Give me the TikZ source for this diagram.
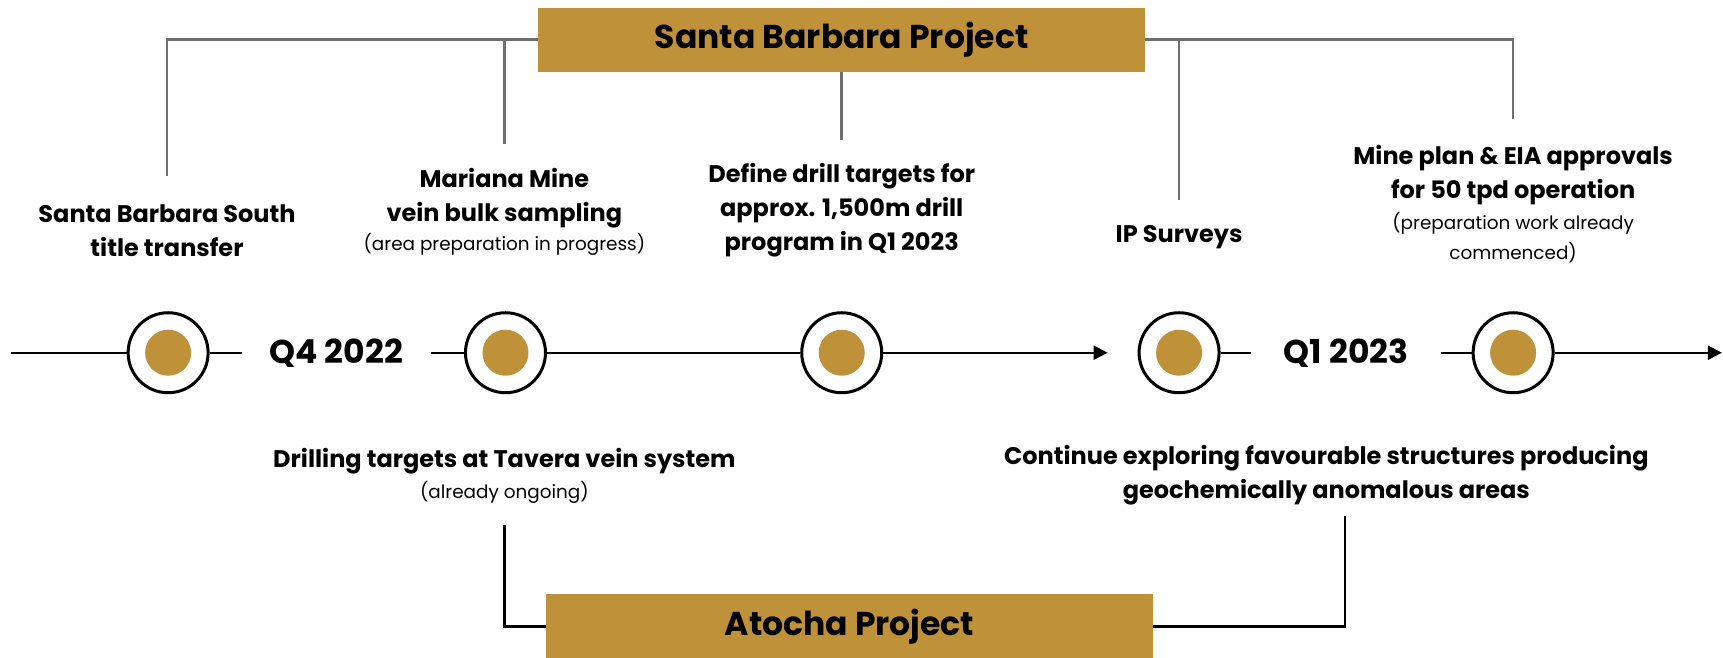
\documentclass[tikz,border=0pt]{standalone}
\usepackage{fontspec}
\setmainfont{Poppins}
\usetikzlibrary{arrows.meta}
\definecolor{gold}{RGB}{191,145,56}
\definecolor{linegray}{RGB}{110,110,110}
\begin{document}
\begin{tikzpicture}[x=1.0989pt,y=-1.0989pt,
  milestone/.style={circle,draw,line width=3pt,fill=white,minimum size=80pt,inner sep=0pt},
  dot/.style={circle,fill=gold,minimum size=46pt,inner sep=0pt},
  banner/.style={fill=gold,minimum width=607pt,minimum height=64pt,inner sep=0pt,font=\bfseries\fontsize{33}{36}\selectfont},
  task/.style={align=center,font=\bfseries\fontsize{24}{34}\selectfont},
  note/.style={align=center,font=\fontsize{18.4}{30}\selectfont},
  quarter/.style={minimum width=189pt,inner sep=0pt,font=\bfseries\fontsize{33}{36}\selectfont},
  timeline/.style={line width=2.3pt},
  sblink/.style={draw=linegray,line width=2.7pt},
  atlink/.style={line width=2.3pt}]
  \useasboundingbox (0,0) rectangle (1568,598);

  % banners
  \node[banner] (sbp) at (766,36) {Santa Barbara Project};
  \node[banner] (atp) at (773,570) {Atocha Project};

  % timeline
  \coordinate (start) at (10,321);
  \coordinate (mid) at (1008,321);
  \coordinate (stop) at (1567,321);
  \node[milestone] (m1) at (153,321) {};
  \node[milestone] (m2) at (460,321) {};
  \node[milestone] (m3) at (766,321) {};
  \node[milestone] (m4) at (1073,321) {};
  \node[milestone] (m5) at (1377,321) {};
  \foreach \m in {m1,m2,m3,m4,m5}
    \node[dot] at (\m) {};
  \node[quarter] (q4) at (306,321) {Q4 2022};
  \node[quarter] (q1) at (1225,321) {Q1 2023};
  \draw[timeline] (start) -- (m1) (m1) -- (q4) (q4) -- (m2) (m2) -- (m3)
    (m4) -- (q1) (q1) -- (m5);
  \draw[timeline,-{Triangle[length=14pt,width=14pt]}] (m3) -- (mid);
  \draw[timeline,-{Triangle[length=14pt,width=14pt]}] (m5) -- (stop);

  % Santa Barbara tasks
  \node[task] (sbs) at (152,210) {Santa Barbara South\\title transfer};
  \node[task] (mar) at (459,180) {Mariana Mine\\vein bulk sampling};
  \node[note] (marn) at (459,222) {(area preparation in progress)};
  \node[task] (drl) at (766,191) {Define drill targets for\\approx. 1,500m drill\\program in Q1 2023};
  \node[task] (ip) at (1073,216) {IP Surveys};
  \node[task] (mpl) at (1377,159) {Mine plan \& EIA approvals\\for 50 tpd operation};
  \node[note] (mpln) at (1377,216) {(preparation work already\\commenced)};

  % Atocha tasks
  \node[task] (tav) at (459,420) {Drilling targets at Tavera vein system};
  \node[note] (tavn) at (459,448) {(already ongoing)};
  \node[task] (geo) at (1207,432) {Continue exploring favourable structures producing\\geochemically anomalous areas};

  % connectors
  \coordinate (t1) at (152,160);
  \coordinate (t2) at (459,131);
  \coordinate (t3) at (766,127);
  \coordinate (t4) at (1073,182);
  \coordinate (t5) at (1377,108);
  \draw[sblink] (t1) |- (sbp.west);
  \draw[sblink] (t2) -- (t2 |- sbp.west);
  \draw[sblink] (t3) -- (sbp.south);
  \draw[sblink] (t4) -- (t4 |- sbp.east);
  \draw[sblink] (t5) |- (sbp.east);
  \coordinate (b1) at (459,478);
  \coordinate (b2) at (1224,470);
  \draw[atlink] (b1) |- (atp.west);
  \draw[atlink] (b2) |- (atp.east);
\end{tikzpicture}
\end{document}
